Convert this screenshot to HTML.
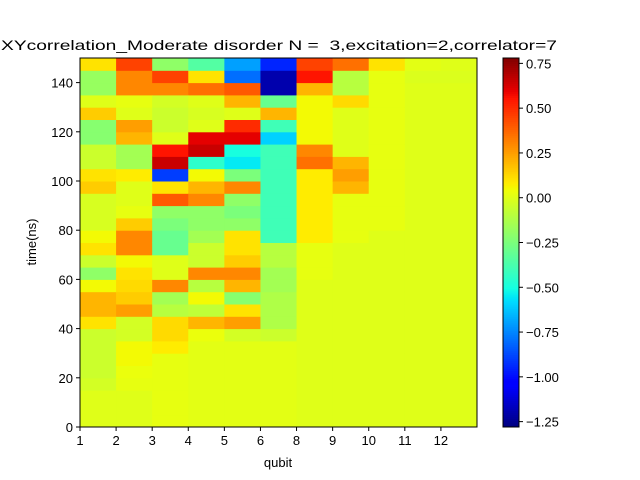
<!DOCTYPE html>
<html><head><meta charset="utf-8"><style>
body{margin:0;background:#fff}
svg{display:block;font-family:"Liberation Sans","DejaVu Sans",sans-serif}
</style></head><body>
<svg id="chart" width="640" height="480" viewBox="0 0 640 480" xmlns="http://www.w3.org/2000/svg">
<rect width="640" height="480" fill="#fff"/>
<text x="1" y="50" font-size="14" style="white-space:pre" textLength="556" lengthAdjust="spacingAndGlyphs">XYcorrelation_Moderate disorder N =  3,excitation=2,correlator=7</text>
<g id="cells"></g>
<g id="cbar"></g>
<rect x="80" y="58" width="397" height="369" fill="none" stroke="#000" stroke-width="1"/>
<g id="axes" font-size="13"></g>
<text x="278" y="467" font-size="13" text-anchor="middle">qubit</text>
<text transform="translate(36,242) rotate(-90)" font-size="13" text-anchor="middle">time(ns)</text>
</svg>
<script>
// categories
const qubits = ["1","2","3","4","5","6","8","9","10","11","12"];
// time bins (5 ns each), values listed from t=0 upward
const binSize = 5;
const col1 = [0,0,0,-0.03,-0.05,-0.05,-0.05,-0.05,0.1,0.2,0.2,0.05,-0.2,-0.05,0.1,0.05,-0.02,-0.02,-0.02,0.15,0.1,-0.05,-0.05,-0.22,-0.22,0.15,0,-0.18,-0.18,0.1];
const col2 = [0,0,0,0.02,0.03,0.05,0.05,-0.03,-0.03,0.25,0.15,0.12,0.1,0.05,0.3,0.3,0.15,0.02,0,0,0.08,-0.15,-0.15,0.2,0.25,0,0.02,0.3,0.3,0.45];
const col3 = [0.02,0.02,0.02,0.02,0.02,0.02,0.08,0.12,0.12,-0.1,-0.15,0.3,0,0,-0.3,-0.3,-0.25,-0.2,0.4,0.1,-0.9,0.65,0.55,0,-0.05,-0.05,-0.03,0.3,0.45,-0.2];
const col4 = [0.01,0.01,0.01,0.01,0.01,0.01,0.01,0.03,0.2,-0.08,0.05,-0.1,0.3,-0.05,-0.05,-0.15,-0.2,-0.2,0.3,0.2,0.05,-0.45,0.65,0.6,0,-0.02,0,0.35,0.1,-0.35];
const col5 = [0.01,0.01,0.01,0.01,0.01,0.01,0.01,-0.03,0.25,0.1,-0.22,0.2,0.3,0.15,0.1,0.1,-0.2,-0.25,-0.2,0.3,-0.25,-0.55,-0.5,0.6,0.5,0,0.2,0.4,-0.8,-0.7];
const col6 = [0.01,0.01,0.01,0.01,0.01,0.01,0.01,-0.05,-0.12,-0.12,-0.12,-0.15,-0.15,-0.1,-0.1,-0.4,-0.4,-0.4,-0.4,-0.4,-0.4,-0.4,-0.4,-0.6,-0.4,0.2,-0.3,-1.2,-1.2,-0.95];
const col8 = [0,0,0,0,0,0,0,0,0,0,0,0,0.02,0.02,0.02,0.08,0.08,0.08,0.08,0.08,0.08,0.35,0.3,0.05,0.05,0.05,0.05,0.2,0.55,0.45];
const col9 = [0,0,0,0,0,0,0,0,0,0,0,0,0,0,0,0.02,0.02,0.02,0.02,0.2,0.25,0.2,0,0,0,0,0.12,-0.1,-0.1,0.35];
const col10 = [0,0,0,0,0,0,0,0,0,0,0,0,0,0,0,0,0.02,0.02,0.02,0.02,0.02,0.02,0.02,0.02,0.02,0.02,0.02,0.02,0.02,0.1];
const col11 = [0,0,0,0,0,0,0,0,0,0,0,0,0,0,0,0,0,0,0,0,0,0,0,0,0,0,0,0,-0.01,0.01];
const col12 = [0,0,0,0,0,0,0,0,0,0,0,0,0,0,0,0,0,0,0,0,0,0,0,0,0,0,0,0,-0.01,0];
const columns = [col1,col2,col3,col4,col5,col6,col8,col9,col10,col11,col12];
// ticks
const yTicks = [0,20,40,60,80,100,120,140];
const cbTicks = [0.75,0.5,0.25,0,-0.25,-0.5,-0.75,-1,-1.25];
const cbTickLabels = ["0.75","0.50","0.25","0.00","\u22120.25","\u22120.50","\u22120.75","\u22121.00","\u22121.25"];
const vmin = -1.28, vmax = 0.78, tMax = 150;

const NS = "http://www.w3.org/2000/svg";
const X0 = 80, X1 = 477, Y0 = 58, Y1 = 427;
const colW = (X1 - X0) / qubits.length;
function xScale(i){ return X0 + i * colW; }
function yScale(t){ return Y1 - t * (Y1 - Y0) / tMax; }
function cbY(v){ return Y0 + (vmax - v) / (vmax - vmin) * (Y1 - Y0); }
function interp(seg, x){
  for (let i = 1; i < seg.length; i++){
    if (x <= seg[i][0]){ const a = seg[i-1], b = seg[i]; return a[1] + (b[1]-a[1]) * (x-a[0])/(b[0]-a[0]); }
  }
  return seg[seg.length-1][1];
}
const R = [[0,0],[0.35,0],[0.66,1],[0.89,1],[1,0.5]];
const G = [[0,0],[0.125,0],[0.375,1],[0.64,1],[0.91,0],[1,0]];
const B = [[0,0.5],[0.11,1],[0.34,1],[0.65,0],[1,0]];
function color(v){
  let x = (v - vmin) / (vmax - vmin); x = Math.max(0, Math.min(1, x));
  return "rgb(" + Math.round(255*interp(R,x)) + "," + Math.round(255*interp(G,x)) + "," + Math.round(255*interp(B,x)) + ")";
}
function mk(tag, attrs, parent){
  const el = document.createElementNS(NS, tag);
  for (const k in attrs) el.setAttribute(k, attrs[k]);
  parent.appendChild(el); return el;
}
const cells = document.getElementById("cells");
columns.forEach((col, ci) => {
  col.forEach((v, bi) => {
    const yTop = yScale((bi + 1) * binSize), yBot = yScale(bi * binSize);
    const r = mk("rect", {x: xScale(ci), y: yTop, width: colW + 0.5, height: yBot - yTop + 0.5, fill: color(v)}, cells);
    
    
  });
});
const axes = document.getElementById("axes");
qubits.forEach((q, i) => {
  const x = xScale(i);
  const tk = mk("line", {x1: x, x2: x, y1: Y1, y2: Y1 + 4, stroke: "#000"}, axes);
  
  
  const t = mk("text", {x: x, y: Y1 + 18, "text-anchor": "middle"}, axes);
  t.textContent = q;
  
  
});
yTicks.forEach(v => {
  const y = yScale(v);
  const tk = mk("line", {x1: X0 - 4, x2: X0, y1: y, y2: y, stroke: "#000"}, axes);
  
  
  const t = mk("text", {x: X0 - 7, y: y + 5, "text-anchor": "end"}, axes);
  t.textContent = String(v);
  
  
});
// colorbar
const cb = document.getElementById("cbar");
const CX = 503, CW = 16, steps = 185;
for (let i = 0; i < steps; i++){
  const v1 = vmax - (vmax - vmin) * i / steps, v2 = vmax - (vmax - vmin) * (i + 1) / steps;
  const r = mk("rect", {x: CX, y: cbY(v1), width: CW, height: cbY(v2) - cbY(v1) + 0.5, fill: color((v1 + v2) / 2)}, cb);
  
  
}
const cbf = mk("rect", {x: CX, y: Y0, width: CW, height: Y1 - Y0, fill: "none", stroke: "#000"}, cb);


cbTicks.forEach((v, i) => {
  const y = cbY(v);
  const tk = mk("line", {x1: CX + CW, x2: CX + CW + 4, y1: y, y2: y, stroke: "#000"}, cb);
  
  
  const t = mk("text", {x: CX + CW + 7, y: y + 5, "font-size": "13"}, cb);
  t.textContent = cbTickLabels[i];
  
  
});
</script>
</body></html>
